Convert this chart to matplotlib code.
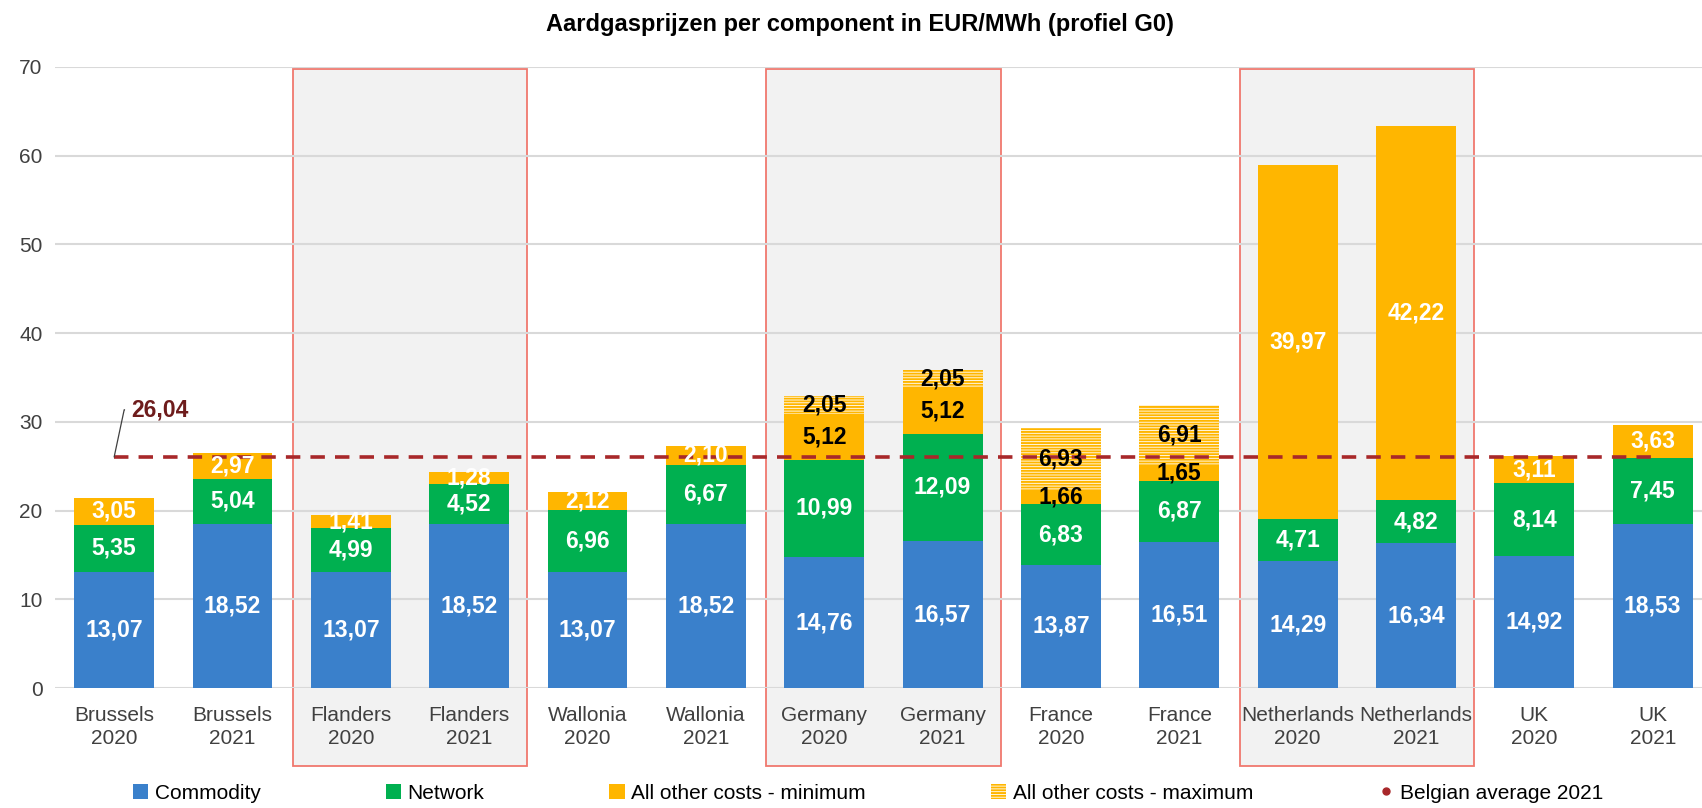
import numpy as np
import matplotlib
matplotlib.use("Agg")
import matplotlib.pyplot as plt
from matplotlib.patches import Rectangle, Patch
from matplotlib.lines import Line2D

categories = ["Brussels\n2020", "Brussels\n2021", "Flanders\n2020", "Flanders\n2021",
              "Wallonia\n2020", "Wallonia\n2021", "Germany\n2020", "Germany\n2021",
              "France\n2020", "France\n2021", "Netherlands\n2020", "Netherlands\n2021",
              "UK\n2020", "UK\n2021"]
commodity = [13.07, 18.52, 13.07, 18.52, 13.07, 18.52, 14.76, 16.57, 13.87, 16.51, 14.29, 16.34, 14.92, 18.53]
network = [5.35, 5.04, 4.99, 4.52, 6.96, 6.67, 10.99, 12.09, 6.83, 6.87, 4.71, 4.82, 8.14, 7.45]
other_min = [3.05, 2.97, 1.41, 1.28, 2.12, 2.10, 5.12, 5.12, 1.66, 1.65, 39.97, 42.22, 3.11, 3.63]
other_max = [0, 0, 0, 0, 0, 0, 2.05, 2.05, 6.93, 6.91, 0, 0, 0, 0]
belgian_avg = 26.04
highlight_start = [2, 6, 10]  # pairs framed in grey boxes

title = "Aardgasprijzen per component in EUR/MWh (profiel G0)"
legend_labels = ["Commodity", "Network", "All other costs - minimum",
                 "All other costs - maximum", "Belgian average 2021"]

BLUE = "#3a80cb"
GREEN = "#00b050"
ORANGE = "#ffb600"
RED = "#a8282a"
TXT = "#404040"

plt.rcParams['font.family'] = ['Liberation Sans', 'DejaVu Sans']
plt.rcParams['hatch.linewidth'] = 1.4

fig = plt.figure(figsize=(17.02, 8.08), dpi=100)
ax = fig.add_axes([0.0323, 0.1485, 0.9735, 0.7686])

x = np.arange(len(categories))
commodity = np.array(commodity)
network = np.array(network)
other_min = np.array(other_min)
other_max = np.array(other_max)
b2 = commodity + network
b3 = b2 + other_min
w = 0.675

for s in highlight_start:
    ax.add_patch(Rectangle((s - 0.49, -8.8), 1.98, 78.6, facecolor="#f2f2f2",
                           edgecolor="#f0786e", lw=1.3, zorder=0.3, clip_on=False))

ax.bar(x, commodity, w, color=BLUE, zorder=2)
ax.bar(x, network, w, bottom=commodity, color=GREEN, zorder=2)
ax.bar(x, other_min, w, bottom=b2, color=ORANGE, zorder=2)
ax.bar(x, other_max, w, bottom=b3, color="white", edgecolor=ORANGE,
       hatch="------", linewidth=0, zorder=2)


def fmt(v):
    return f"{v:.2f}".replace(".", ",")


for i in x:
    dark = other_max[i] > 0
    segs = [(0, commodity[i], "white"), (commodity[i], network[i], "white"),
            (b2[i], other_min[i], "black" if dark else "white"),
            (b3[i], other_max[i], "black")]
    for base, v, col in segs:
        if v > 0:
            ax.text(i, base + v / 2, fmt(v), ha="center", va="center", color=col,
                    fontsize=16.5, fontweight="bold", zorder=4)

ax.plot([x[0], x[-1]], [belgian_avg, belgian_avg], color=RED, lw=2.6,
        dashes=(4, 2.8), zorder=3)
ax.annotate(fmt(belgian_avg), xy=(x[0], belgian_avg), xytext=(12.5, 34),
            textcoords="offset points", ha="left", va="center", color="#6e1c1c",
            fontsize=16.5, fontweight="bold",
            arrowprops=dict(arrowstyle="-", color="#404040", lw=0.9, relpos=(0, 0.5),
                            shrinkA=3, shrinkB=0,
                            connectionstyle="angle,angleA=0,angleB=78,rad=0"))

ax.set_xlim(-0.5, len(categories) - 0.5)
ax.set_ylim(0, 70)
ax.set_yticks(np.arange(0, 71, 10))
ax.set_xticks(x)
ax.set_xticklabels(categories, fontsize=15, color=TXT, linespacing=1.27)
ax.tick_params(axis="x", length=0, pad=13)
ax.tick_params(axis="y", length=0, pad=9, labelsize=15, labelcolor=TXT)
ax.set_axisbelow(True)
ax.grid(axis="y", color="#d9d9d9", lw=1.5, zorder=0.5)
for sp in ax.spines.values():
    sp.set_visible(False)

fig.text(0.505, 0.970, title, ha="center", va="center", fontsize=17, fontweight="bold")

handles = [Patch(facecolor=BLUE), Patch(facecolor=GREEN), Patch(facecolor=ORANGE),
           Patch(facecolor="white", edgecolor=ORANGE, hatch="------", linewidth=0),
           Line2D([], [], color=RED, lw=0, marker="o", markersize=5)]
fig.legend(handles, legend_labels, loc="lower center", bbox_to_anchor=(0.51, -0.004),
           ncol=5, frameon=False, fontsize=15, handlelength=0.75, handleheight=0.75,
           handletextpad=0.3, columnspacing=6.0, borderaxespad=0)

fig.savefig("out.png", dpi=100)
